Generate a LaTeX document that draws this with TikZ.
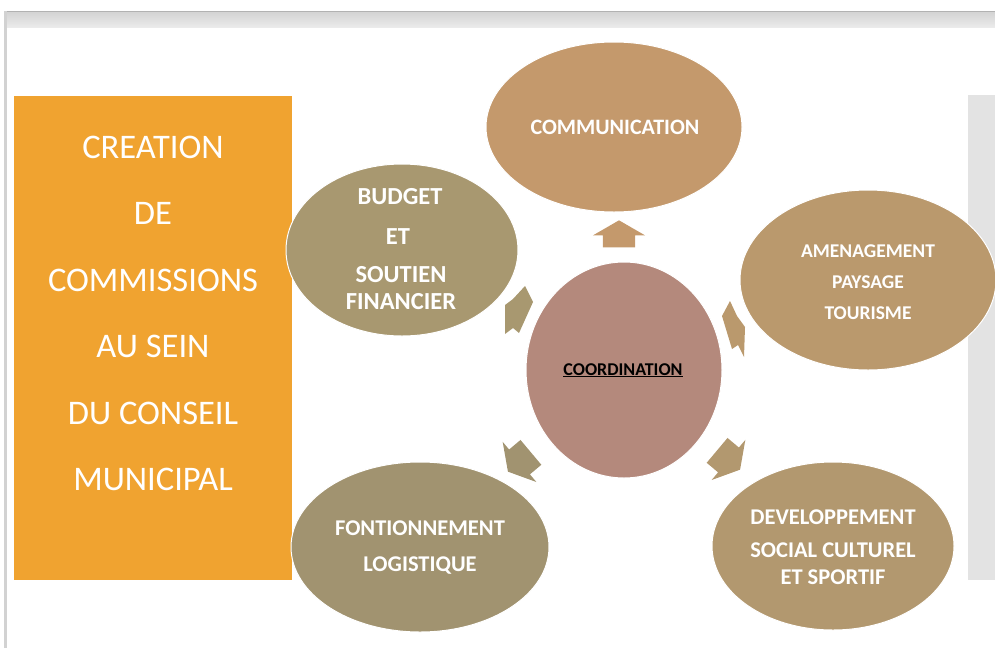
\documentclass[tikz,border=0pt]{standalone}
\usepackage{fontspec}
\setmainfont{Carlito}
\usetikzlibrary{shapes.geometric,shapes.arrows}
\definecolor{cOrange}{HTML}{F0A330}
\definecolor{cComm}{HTML}{C4996C}
\definecolor{cBudget}{HTML}{A89870}
\definecolor{cAmen}{HTML}{BA996D}
\definecolor{cCoord}{HTML}{B4897C}
\definecolor{cFont}{HTML}{A19370}
\definecolor{cDev}{HTML}{B2986F}
\definecolor{cGrayBar}{HTML}{E3E3E3}
\definecolor{cFrame}{HTML}{D2D2D2}
\begin{document}
\begin{tikzpicture}[x=1pt,y=-1pt,
  ell/.style={ellipse, draw=white, line width=1pt, inner sep=0pt},
  barrow/.style={single arrow, draw=none, inner xsep=0pt, inner ysep=16pt,
    text height=0pt, text depth=0pt, minimum height=30pt,
    single arrow head extend=10pt, single arrow tip angle=120},
  lefttxt/.style={anchor=base, text=white, font=\fontsize{34.5}{40}\selectfont, inner sep=0pt},
  etxt/.style={anchor=base, text=white, inner sep=0pt}]
\useasboundingbox (0,0) rectangle (995,648);
% frame
\shade[top color=cFrame, bottom color=white!92!black] (5,11) rectangle (995,27);
\draw[cFrame!85!black, line width=1pt] (5,11.5) -- (995,11.5);
\fill[cFrame] (4,11) rectangle (7,648);
% left box
\fill[cOrange] (14,96) rectangle (292,580);
\foreach \t/\y [count=\i] in {CREATION/158, DE/224.5, COMMISSIONS/291, AU SEIN/357.5, DU CONSEIL/424, MUNICIPAL/490.5}
  \node[lefttxt] (l\i) at (153,\y) {\t};
% right gray bar
\fill[cGrayBar] (968,95) rectangle (995,580);
% ellipses
\node[ell, fill=cComm, minimum width=256pt, minimum height=170pt] (comm) at (614,127) {};
\node[ell, fill=cBudget, minimum width=232pt, minimum height=172pt] (budget) at (402,250) {};
\node[ell, fill=cAmen, minimum width=256pt, minimum height=180pt] (amen) at (868,280) {};
\node[ell, fill=cCoord, minimum width=196pt, minimum height=216pt] (coord) at (624,370) {};
\node[ell, fill=cFont, minimum width=258pt, minimum height=170pt] (font) at (420,547) {};
\node[ell, fill=cDev, minimum width=242pt, minimum height=168pt] (dev) at (833,546) {};
% arrows
\node[barrow, fill=cComm, rotate=90, minimum height=27pt] (a1) at (619,238.5) {};
\fill[cBudget] (525,286) -- (533,302) -- (519,333) -- (513,328) -- (505,334) -- (505,305) -- (513,299) -- cycle;
\fill[cAmen] (730,301) -- (722,316) -- (732,349) -- (738,345) -- (744,357) -- (745,327) -- (737,316) -- cycle;
\node[barrow, fill=cFont, rotate=220] (a4) at (523,459) {};
\node[barrow, fill=cDev, rotate=-40] (a5) at (725,457) {};
% texts
\node[etxt, font=\bfseries\fontsize{22}{24}\selectfont] (t1) at (615,134) {COMMUNICATION};
\node[etxt, font=\bfseries\fontsize{24.5}{26}\selectfont] (t2) at (400,204) {BUDGET};
\node[etxt, font=\bfseries\fontsize{24.5}{26}\selectfont] (t3) at (398,244) {ET};
\node[etxt, font=\bfseries\fontsize{24.5}{26}\selectfont] (t4) at (401,282) {SOUTIEN};
\node[etxt, font=\bfseries\fontsize{24.5}{26}\selectfont] (t5) at (401,309.5) {FINANCIER};
\node[etxt, font=\bfseries\fontsize{19.5}{24}\selectfont] (t6) at (868,257) {AMENAGEMENT};
\node[etxt, font=\bfseries\fontsize{19.5}{24}\selectfont] (t7) at (868,288) {PAYSAGE};
\node[etxt, font=\bfseries\fontsize{19.5}{24}\selectfont] (t8) at (868,319) {TOURISME};
\node[anchor=base, inner sep=0pt, text=black, font=\bfseries\fontsize{18}{22}\selectfont] (t9) at (623,375) {\underline{COORDINATION}};
\node[etxt, font=\bfseries\fontsize{22.5}{24}\selectfont] (t10) at (420,535) {FONTIONNEMENT};
\node[etxt, font=\bfseries\fontsize{22.5}{24}\selectfont] (t11) at (420,571) {LOGISTIQUE};
\node[etxt, font=\bfseries\fontsize{22.5}{24}\selectfont] (t12) at (833,524) {DEVELOPPEMENT};
\node[etxt, font=\bfseries\fontsize{22.5}{24}\selectfont] (t13) at (833,557) {SOCIAL CULTUREL};
\node[etxt, font=\bfseries\fontsize{22.5}{24}\selectfont] (t14) at (833,584) {ET SPORTIF};
\end{tikzpicture}
\end{document}
